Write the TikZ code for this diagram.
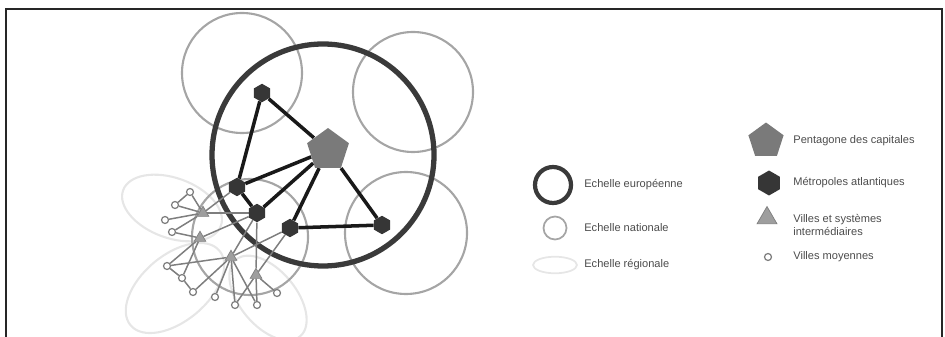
\documentclass[tikz,border=0pt]{standalone}
\usepackage{fontspec}
\setmainfont{Liberation Sans}
\definecolor{europe}{HTML}{3A3A3A}
\definecolor{nation}{HTML}{A5A5A5}
\definecolor{region}{HTML}{E6E6E6}
\definecolor{capitale}{HTML}{7A7A7A}
\definecolor{metropole}{HTML}{363636}
\definecolor{villegris}{HTML}{7E7E7E}
\usetikzlibrary{shapes.geometric, positioning, backgrounds}

\begin{document}
\begin{tikzpicture}[x=0.02cm, y=-0.02cm,
    pentagone/.style={regular polygon, regular polygon sides=5, fill=capitale,
      inner sep=0pt, minimum size=0.88cm},
    metro/.style={regular polygon, regular polygon sides=6, shape border rotate=30,
      fill=metropole, inner sep=0pt, minimum size=0.37cm},
    ville/.style={regular polygon, regular polygon sides=3, fill=villegris!75,
      draw=villegris, inner sep=0pt, minimum size=0.27cm},
    moyenne/.style={circle, draw=villegris, fill=white, line width=0.7pt,
      inner sep=0pt, minimum size=0.14cm},
    axe/.style={line width=2pt, black!90},
    lien/.style={line width=0.85pt, villegris},
    europ/.style={line width=3pt, europe},
    natio/.style={line width=1.2pt, nation},
    regio/.style={line width=1.2pt, region},
    legende/.style={anchor=west, font=\fontsize{6.3}{7.6}\selectfont,
      text=black!70, inner sep=0pt, align=left}]
  \useasboundingbox (0,0) rectangle (945,337);
  \draw[line width=1.1pt, black!85] (6,337) -- (6,9) -- (942,9) -- (942,337);

  % echelles
  \begin{scope}[on background layer]
    \draw[regio, rotate around={-20:(172,208)}] (172,208) ellipse [x radius=52, y radius=30];
    \draw[regio, rotate around={40:(175,288)}] (175,288) ellipse [x radius=58, y radius=33];
    \draw[regio, rotate around={-50:(268,298)}] (268,298) ellipse [x radius=50, y radius=28];
    \draw[natio] (242,73) circle [radius=60];
    \draw[natio] (413,92) circle [radius=60];
    \draw[natio] (406,233) circle [radius=61];
    \draw[natio] (250,237) circle [radius=58];
    \draw[europ] (323,155) circle [radius=111];
  \end{scope}

  % villes
  \node[pentagone] (paris) at (328,150) {};
  \node[metro] (m1) at (262,93) {};
  \node[metro] (m2) at (237,187) {};
  \node[metro] (m3) at (257,213) {};
  \node[metro] (m4) at (290,228) {};
  \node[metro] (m5) at (382,225) {};
  \node[ville] (t1) at (203,213) {};
  \node[ville] (t2) at (200,238) {};
  \node[ville] (t3) at (231,257) {};
  \node[ville] (t4) at (256,275) {};
  \foreach \n/\x/\y in {v1/190/192, v2/175/205, v3/165/220, v4/172/232,
      v5/167/266, v6/182/278, v7/193/292, v8/215/297, v9/235/305,
      v10/257/305, v11/277/293}
    \node[moyenne] (\n) at (\x,\y) {};

  \begin{scope}[on background layer]
    \foreach \a/\b in {t1/v1, t1/v2, t1/v3, t1/v4, v1/v2, t2/v4, t2/v5, t2/v6,
        v5/v6, v6/v7, t3/v5, t3/v7, t3/v8, t3/v9, t3/v10, t4/v9, t4/v10, t4/v11,
        t1/m2, t1/m3, t2/m3, t3/m3, t3/m4, t4/m4, t4/m3}
      \draw[lien] (\a) -- (\b);
    \foreach \a/\b in {m1/paris, m1/m2, paris/m5, m5/m4, paris/m2, paris/m3,
        paris/m4, m2/m3}
      \draw[axe] (\a) -- (\b);
  \end{scope}

  % legende
  \node[circle, draw=europe, line width=2.4pt, minimum size=0.72cm] (leg-eu) at (553,185) {};
  \node[circle, draw=nation, line width=1pt, minimum size=0.46cm] (leg-na) at (555,228) {};
  \node[ellipse, draw=region, line width=1pt, minimum width=0.88cm, minimum height=0.32cm] (leg-re) at (555,265) {};
  \node[legende] at (584,185) {Echelle européenne};
  \node[legende] at (584,228) {Echelle nationale};
  \node[legende] at (584,265) {Echelle régionale};

  \node[pentagone, minimum size=0.74cm] (leg-pe) at (766,141) {};
  \node[metro, minimum size=0.5cm] (leg-me) at (769,183) {};
  \node[ville, minimum size=0.46cm] (leg-vi) at (767,218) {};
  \node[moyenne] (leg-mo) at (768,257) {};
  \node[legende] at (793,141) {Pentagone des capitales};
  \node[legende] at (793,183) {Métropoles atlantiques};
  \node[legende] at (793,225) {Villes et systèmes\\intermédiaires};
  \node[legende] at (793,257) {Villes moyennes};
\end{tikzpicture}
\end{document}
